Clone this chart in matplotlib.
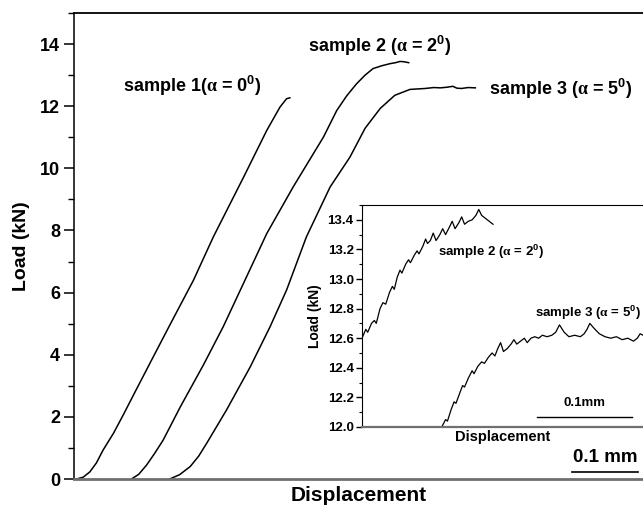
import numpy as np
import matplotlib
matplotlib.use('Agg')
import matplotlib.pyplot as plt
from matplotlib.ticker import MultipleLocator, NullLocator, FormatStrFormatter

plt.rcParams['font.family'] = ['Liberation Sans', 'DejaVu Sans']
plt.rcParams['font.weight'] = 'bold'
plt.rcParams['mathtext.fontset'] = 'custom'
plt.rcParams['mathtext.rm'] = 'Liberation Sans:bold'
plt.rcParams['mathtext.bf'] = 'Liberation Sans:bold'
plt.rcParams['mathtext.it'] = 'Liberation Serif'

# main plot: displacement (mm) vs load (kN)
s1_x = [0.004, 0.014, 0.024, 0.034, 0.044, 0.060, 0.075, 0.090, 0.120, 0.145,
        0.181, 0.211, 0.257, 0.292, 0.312, 0.322, 0.327]
s1_y = [0.00, 0.06, 0.23, 0.52, 0.93, 1.48, 2.08, 2.70, 3.93, 4.95,
        6.40, 7.79, 9.72, 11.22, 11.97, 12.24, 12.27]

s2_x = [0.087, 0.098, 0.110, 0.122, 0.135, 0.161, 0.196, 0.226, 0.259, 0.292,
        0.332, 0.378, 0.398, 0.413, 0.428, 0.441, 0.453, 0.466, 0.479, 0.487,
        0.494, 0.500, 0.507]
s2_y = [0.00, 0.15, 0.45, 0.82, 1.25, 2.32, 3.67, 4.90, 6.40, 7.90,
        9.40, 11.01, 11.86, 12.33, 12.72, 13.00, 13.21, 13.30, 13.37, 13.40,
        13.44, 13.43, 13.40]

s3_x = [0.145, 0.160, 0.176, 0.189, 0.201, 0.231, 0.267, 0.297, 0.322, 0.352,
        0.388, 0.418, 0.441, 0.464, 0.486, 0.509, 0.532, 0.545, 0.555, 0.565,
        0.574, 0.580, 0.587, 0.597, 0.608]
s3_y = [0.00, 0.14, 0.40, 0.74, 1.15, 2.22, 3.61, 4.90, 6.08, 7.79,
        9.40, 10.36, 11.29, 11.93, 12.35, 12.54, 12.57, 12.60, 12.59, 12.61,
        12.64, 12.58, 12.57, 12.60, 12.59]

# inset (zoom of the maximum region)
in2_x = [0.000, 0.004, 0.006, 0.010, 0.013, 0.015, 0.019, 0.022, 0.025, 0.029,
         0.032, 0.034, 0.037, 0.040, 0.042, 0.046, 0.049, 0.051, 0.055, 0.058,
         0.060, 0.064, 0.067, 0.069, 0.072, 0.075, 0.078, 0.082, 0.085, 0.088,
         0.092, 0.095, 0.098, 0.102, 0.105, 0.108, 0.112, 0.116, 0.120, 0.123,
         0.126, 0.132, 0.138]
in2_y = [12.60, 12.66, 12.64, 12.70, 12.72, 12.70, 12.80, 12.84, 12.83, 12.91,
         12.95, 12.93, 13.01, 13.06, 13.04, 13.10, 13.13, 13.11, 13.16, 13.19,
         13.17, 13.22, 13.27, 13.24, 13.26, 13.31, 13.26, 13.30, 13.34, 13.30,
         13.35, 13.39, 13.34, 13.38, 13.42, 13.37, 13.39, 13.40, 13.43, 13.47,
         13.43, 13.40, 13.37]

in3_x = [0.084, 0.088, 0.090, 0.094, 0.097, 0.099, 0.103, 0.106, 0.108, 0.112,
         0.116, 0.118, 0.122, 0.126, 0.129, 0.133, 0.137, 0.140, 0.143, 0.146,
         0.149, 0.153, 0.157, 0.160, 0.163, 0.167, 0.171, 0.174, 0.178, 0.182,
         0.186, 0.190, 0.195, 0.200, 0.204, 0.208, 0.213, 0.218, 0.224, 0.230,
         0.234, 0.237, 0.240, 0.244, 0.250, 0.256, 0.262, 0.268, 0.274, 0.280,
         0.286, 0.290, 0.293, 0.296]
in3_y = [12.00, 12.05, 12.04, 12.12, 12.17, 12.16, 12.23, 12.28, 12.27, 12.33,
         12.38, 12.36, 12.41, 12.44, 12.43, 12.47, 12.50, 12.48, 12.53, 12.57,
         12.51, 12.53, 12.56, 12.59, 12.56, 12.58, 12.60, 12.57, 12.60, 12.61,
         12.60, 12.62, 12.61, 12.62, 12.64, 12.69, 12.64, 12.61, 12.62, 12.61,
         12.63, 12.66, 12.70, 12.67, 12.63, 12.61, 12.60, 12.61, 12.59, 12.60,
         12.58, 12.60, 12.63, 12.62]

scale_main = (0.755, 0.1)   # start, length (mm)
scale_inset = (0.184, 0.1)

fig = plt.figure(figsize=(6.43, 5.11), dpi=100)
ax = fig.add_axes([0.1151, 0.0626, 0.8849, 0.912])

for xs, ys in [(s1_x, s1_y), (s2_x, s2_y), (s3_x, s3_y)]:
    ax.plot(xs, ys, color='black', lw=1.1)

ax.set_xlim(0, 0.862)
ax.set_ylim(0, 15)
ax.xaxis.set_major_locator(NullLocator())
ax.yaxis.set_major_locator(MultipleLocator(2))
ax.yaxis.set_minor_locator(MultipleLocator(1))
ax.tick_params(axis='y', which='major', direction='out', length=7, width=1.1,
               labelsize=13, pad=3)
ax.tick_params(axis='y', which='minor', direction='out', length=4, width=1.0)
for lab in ax.get_yticklabels():
    lab.set_fontweight('bold')
ax.spines['right'].set_visible(False)
ax.spines['left'].set_linewidth(1.1)
ax.spines['top'].set_linewidth(1.3)
ax.spines['bottom'].set_linewidth(2.0)
ax.spines['bottom'].set_color('#707070')

ax.set_ylabel('Load (kN)', fontsize=14, fontweight='bold', labelpad=7)
ax.set_xlabel('Displacement', fontsize=15, fontweight='bold', labelpad=5)

ax.text(0.074, 12.65, r'sample 1($\alpha$ = $\mathbf{0^0}$)', fontsize=13,
        fontweight='bold', va='center', ha='left')
ax.text(0.355, 13.95, r'sample 2 ($\alpha$ = $\mathbf{2^0}$)', fontsize=13,
        fontweight='bold', va='center', ha='left')
ax.text(0.628, 12.55, r'sample 3 ($\alpha$ = $\mathbf{5^0}$)', fontsize=13,
        fontweight='bold', va='center', ha='left')

ax.plot([scale_main[0], scale_main[0] + scale_main[1]], [0.23, 0.23],
        color='black', lw=1.2)
ax.text(scale_main[0] + scale_main[1] / 2, 0.42, '0.1 mm', fontsize=13.5,
        fontweight='bold', ha='center', va='bottom')

# inset
ins = fig.add_axes([0.563, 0.1644, 0.437, 0.4344])
ins.plot(in2_x, in2_y, color='black', lw=0.9)
ins.plot(in3_x, in3_y, color='black', lw=0.9)
ins.set_xlim(0, 0.296)
ins.set_ylim(12.0, 13.5)
ins.xaxis.set_major_locator(NullLocator())
ins.yaxis.set_major_locator(MultipleLocator(0.2))
ins.yaxis.set_minor_locator(MultipleLocator(0.1))
ins.yaxis.set_major_formatter(FormatStrFormatter('%.1f'))
ins.tick_params(axis='y', which='major', direction='out', length=4, width=1.0,
                labelsize=9.5, pad=2)
ins.tick_params(axis='y', which='minor', direction='out', length=2.5, width=0.8)
for lab in ins.get_yticklabels():
    lab.set_fontweight('bold')
ins.spines['right'].set_visible(False)
ins.spines['bottom'].set_linewidth(1.6)
ins.spines['bottom'].set_color('#707070')
ins.set_ylabel('Load (kN)', fontsize=10, fontweight='bold', labelpad=4)
ins.set_xlabel('Displacement', fontsize=10.5, fontweight='bold', labelpad=2)

ins.text(0.080, 13.18, r'sample 2 ($\alpha$ = $\mathbf{2^0}$)', fontsize=9.5,
         fontweight='bold', va='center', ha='left')
ins.text(0.182, 12.77, r'sample 3 ($\alpha$ = $\mathbf{5^0}$)', fontsize=9.5,
         fontweight='bold', va='center', ha='left')

ins.plot([scale_inset[0], scale_inset[0] + scale_inset[1]], [12.07, 12.07],
         color='black', lw=1.0)
ins.text(scale_inset[0] + scale_inset[1] / 2, 12.12, '0.1mm', fontsize=9.5,
         fontweight='bold', ha='center', va='bottom')

fig.savefig('out.png', dpi=100)
